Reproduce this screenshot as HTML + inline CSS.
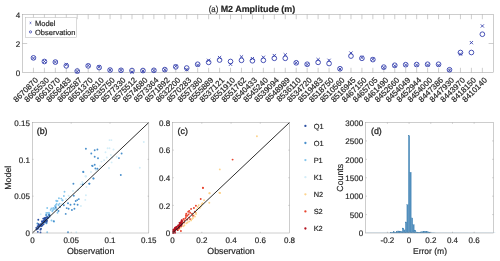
<!DOCTYPE html>
<html><head><meta charset="utf-8"><title>M2 Amplitude</title>
<style>text{stroke:#262626;stroke-width:.18px}html,body{margin:0;padding:0;background:#fff;overflow:hidden}body{width:500px;height:261px;font-family:"Liberation Sans",sans-serif}</style></head>
<body>
<svg width="500" height="261" viewBox="0 0 500 261" style="display:block;font-family:'Liberation Sans', sans-serif;text-rendering:geometricPrecision;will-change:transform" fill="#262626">
<rect width="500" height="261" fill="#fff"/>
<g stroke="#9c9c9c" stroke-width="0.5" fill="none">
<rect x="22.5" y="14.5" width="470.8" height="58.0"/>
<path d="M33.45 72.5v-4.7M33.45 14.5v4.7"/>
<path d="M44.40 72.5v-4.7M44.40 14.5v4.7"/>
<path d="M55.35 72.5v-4.7M55.35 14.5v4.7"/>
<path d="M66.30 72.5v-4.7M66.30 14.5v4.7"/>
<path d="M77.24 72.5v-4.7M77.24 14.5v4.7"/>
<path d="M88.19 72.5v-4.7M88.19 14.5v4.7"/>
<path d="M99.14 72.5v-4.7M99.14 14.5v4.7"/>
<path d="M110.09 72.5v-4.7M110.09 14.5v4.7"/>
<path d="M121.04 72.5v-4.7M121.04 14.5v4.7"/>
<path d="M131.99 72.5v-4.7M131.99 14.5v4.7"/>
<path d="M142.94 72.5v-4.7M142.94 14.5v4.7"/>
<path d="M153.89 72.5v-4.7M153.89 14.5v4.7"/>
<path d="M164.83 72.5v-4.7M164.83 14.5v4.7"/>
<path d="M175.78 72.5v-4.7M175.78 14.5v4.7"/>
<path d="M186.73 72.5v-4.7M186.73 14.5v4.7"/>
<path d="M197.68 72.5v-4.7M197.68 14.5v4.7"/>
<path d="M208.63 72.5v-4.7M208.63 14.5v4.7"/>
<path d="M219.58 72.5v-4.7M219.58 14.5v4.7"/>
<path d="M230.53 72.5v-4.7M230.53 14.5v4.7"/>
<path d="M241.48 72.5v-4.7M241.48 14.5v4.7"/>
<path d="M252.43 72.5v-4.7M252.43 14.5v4.7"/>
<path d="M263.37 72.5v-4.7M263.37 14.5v4.7"/>
<path d="M274.32 72.5v-4.7M274.32 14.5v4.7"/>
<path d="M285.27 72.5v-4.7M285.27 14.5v4.7"/>
<path d="M296.22 72.5v-4.7M296.22 14.5v4.7"/>
<path d="M307.17 72.5v-4.7M307.17 14.5v4.7"/>
<path d="M318.12 72.5v-4.7M318.12 14.5v4.7"/>
<path d="M329.07 72.5v-4.7M329.07 14.5v4.7"/>
<path d="M340.02 72.5v-4.7M340.02 14.5v4.7"/>
<path d="M350.97 72.5v-4.7M350.97 14.5v4.7"/>
<path d="M361.91 72.5v-4.7M361.91 14.5v4.7"/>
<path d="M372.86 72.5v-4.7M372.86 14.5v4.7"/>
<path d="M383.81 72.5v-4.7M383.81 14.5v4.7"/>
<path d="M394.76 72.5v-4.7M394.76 14.5v4.7"/>
<path d="M405.71 72.5v-4.7M405.71 14.5v4.7"/>
<path d="M416.66 72.5v-4.7M416.66 14.5v4.7"/>
<path d="M427.61 72.5v-4.7M427.61 14.5v4.7"/>
<path d="M438.56 72.5v-4.7M438.56 14.5v4.7"/>
<path d="M449.50 72.5v-4.7M449.50 14.5v4.7"/>
<path d="M460.45 72.5v-4.7M460.45 14.5v4.7"/>
<path d="M471.40 72.5v-4.7M471.40 14.5v4.7"/>
<path d="M482.35 72.5v-4.7M482.35 14.5v4.7"/>
<path d="M22.5 43.5h4.7M493.3 43.5h-4.7"/>
</g>
<text x="20.1" y="75.50" font-size="8" text-anchor="end">0</text>
<text x="20.1" y="46.50" font-size="8" text-anchor="end">2</text>
<text x="20.1" y="17.50" font-size="8" text-anchor="end">4</text>
<text transform="translate(38.65 80.7) rotate(-45)" font-size="8" text-anchor="end">8670870</text>
<text transform="translate(49.60 80.7) rotate(-45)" font-size="8" text-anchor="end">8665530</text>
<text transform="translate(60.55 80.7) rotate(-45)" font-size="8" text-anchor="end">8661070</text>
<text transform="translate(71.50 80.7) rotate(-45)" font-size="8" text-anchor="end">8656483</text>
<text transform="translate(82.44 80.7) rotate(-45)" font-size="8" text-anchor="end">8652587</text>
<text transform="translate(93.39 80.7) rotate(-45)" font-size="8" text-anchor="end">8651370</text>
<text transform="translate(104.34 80.7) rotate(-45)" font-size="8" text-anchor="end">8638610</text>
<text transform="translate(115.29 80.7) rotate(-45)" font-size="8" text-anchor="end">8635750</text>
<text transform="translate(126.24 80.7) rotate(-45)" font-size="8" text-anchor="end">8577330</text>
<text transform="translate(137.19 80.7) rotate(-45)" font-size="8" text-anchor="end">8575512</text>
<text transform="translate(148.14 80.7) rotate(-45)" font-size="8" text-anchor="end">8574680</text>
<text transform="translate(159.09 80.7) rotate(-45)" font-size="8" text-anchor="end">8573364</text>
<text transform="translate(170.03 80.7) rotate(-45)" font-size="8" text-anchor="end">8571892</text>
<text transform="translate(180.98 80.7) rotate(-45)" font-size="8" text-anchor="end">8632200</text>
<text transform="translate(191.93 80.7) rotate(-45)" font-size="8" text-anchor="end">8570283</text>
<text transform="translate(202.88 80.7) rotate(-45)" font-size="8" text-anchor="end">8557380</text>
<text transform="translate(213.83 80.7) rotate(-45)" font-size="8" text-anchor="end">8555889</text>
<text transform="translate(224.78 80.7) rotate(-45)" font-size="8" text-anchor="end">8537121</text>
<text transform="translate(235.73 80.7) rotate(-45)" font-size="8" text-anchor="end">8551910</text>
<text transform="translate(246.68 80.7) rotate(-45)" font-size="8" text-anchor="end">8551762</text>
<text transform="translate(257.63 80.7) rotate(-45)" font-size="8" text-anchor="end">8540433</text>
<text transform="translate(268.57 80.7) rotate(-45)" font-size="8" text-anchor="end">8545240</text>
<text transform="translate(279.52 80.7) rotate(-45)" font-size="8" text-anchor="end">8539094</text>
<text transform="translate(290.47 80.7) rotate(-45)" font-size="8" text-anchor="end">8548989</text>
<text transform="translate(301.42 80.7) rotate(-45)" font-size="8" text-anchor="end">8536110</text>
<text transform="translate(312.37 80.7) rotate(-45)" font-size="8" text-anchor="end">8534720</text>
<text transform="translate(323.32 80.7) rotate(-45)" font-size="8" text-anchor="end">8519483</text>
<text transform="translate(334.27 80.7) rotate(-45)" font-size="8" text-anchor="end">8518750</text>
<text transform="translate(345.22 80.7) rotate(-45)" font-size="8" text-anchor="end">8510560</text>
<text transform="translate(356.17 80.7) rotate(-45)" font-size="8" text-anchor="end">8516945</text>
<text transform="translate(367.11 80.7) rotate(-45)" font-size="8" text-anchor="end">8467150</text>
<text transform="translate(378.06 80.7) rotate(-45)" font-size="8" text-anchor="end">8465705</text>
<text transform="translate(389.01 80.7) rotate(-45)" font-size="8" text-anchor="end">8461490</text>
<text transform="translate(399.96 80.7) rotate(-45)" font-size="8" text-anchor="end">8452660</text>
<text transform="translate(410.91 80.7) rotate(-45)" font-size="8" text-anchor="end">8454049</text>
<text transform="translate(421.86 80.7) rotate(-45)" font-size="8" text-anchor="end">8452944</text>
<text transform="translate(432.81 80.7) rotate(-45)" font-size="8" text-anchor="end">8454000</text>
<text transform="translate(443.76 80.7) rotate(-45)" font-size="8" text-anchor="end">8447386</text>
<text transform="translate(454.70 80.7) rotate(-45)" font-size="8" text-anchor="end">8447930</text>
<text transform="translate(465.65 80.7) rotate(-45)" font-size="8" text-anchor="end">8443970</text>
<text transform="translate(476.60 80.7) rotate(-45)" font-size="8" text-anchor="end">8418150</text>
<text transform="translate(487.55 80.7) rotate(-45)" font-size="8" text-anchor="end">8410140</text>
<text x="208.7" y="11.6" font-size="8.8" textLength="9.6" lengthAdjust="spacingAndGlyphs">(a)</text><text x="220.7" y="11.6" font-size="8.93" font-weight="bold">M2 Amplitude (m)</text>
<g stroke="#3641ae" stroke-width="0.9" fill="none">
<circle cx="33.45" cy="57.86" r="2.35"/>
<path d="M31.85 56.55l3.2 3.2M31.85 59.76l3.2 -3.2"/>
<circle cx="44.40" cy="61.49" r="2.35"/>
<path d="M42.80 59.89l3.2 3.2M42.80 63.09l3.2 -3.2"/>
<circle cx="55.35" cy="62.07" r="2.35"/>
<path d="M53.75 60.47l3.2 3.2M53.75 63.67l3.2 -3.2"/>
<circle cx="66.30" cy="65.84" r="2.35"/>
<path d="M64.70 63.08l3.2 3.2M64.70 66.28l3.2 -3.2"/>
<circle cx="77.24" cy="71.06" r="2.35"/>
<path d="M75.64 70.04l3.2 3.2M75.64 73.24l3.2 -3.2"/>
<circle cx="88.19" cy="65.84" r="2.35"/>
<path d="M86.59 63.95l3.2 3.2M86.59 67.15l3.2 -3.2"/>
<circle cx="99.14" cy="67.58" r="2.35"/>
<path d="M97.54 65.26l3.2 3.2M97.54 68.45l3.2 -3.2"/>
<circle cx="110.09" cy="70.05" r="2.35"/>
<path d="M108.49 68.45l3.2 3.2M108.49 71.64l3.2 -3.2"/>
<circle cx="121.04" cy="70.33" r="2.35"/>
<path d="M119.44 68.73l3.2 3.2M119.44 71.93l3.2 -3.2"/>
<circle cx="131.99" cy="70.55" r="2.35"/>
<path d="M130.39 70.48l3.2 3.2M130.39 73.67l3.2 -3.2"/>
<circle cx="142.94" cy="70.55" r="2.35"/>
<path d="M141.34 69.46l3.2 3.2M141.34 72.66l3.2 -3.2"/>
<circle cx="153.89" cy="70.33" r="2.35"/>
<path d="M152.29 68.95l3.2 3.2M152.29 72.15l3.2 -3.2"/>
<circle cx="164.83" cy="69.61" r="2.35"/>
<path d="M163.23 68.16l3.2 3.2M163.23 71.35l3.2 -3.2"/>
<circle cx="175.78" cy="66.86" r="2.35"/>
<path d="M174.18 64.67l3.2 3.2M174.18 67.87l3.2 -3.2"/>
<circle cx="186.73" cy="68.02" r="2.35"/>
<path d="M185.13 68.01l3.2 3.2M185.13 71.21l3.2 -3.2"/>
<circle cx="197.68" cy="64.25" r="2.35"/>
<path d="M196.08 63.51l3.2 3.2M196.08 66.71l3.2 -3.2"/>
<circle cx="208.63" cy="62.36" r="2.35"/>
<path d="M207.03 58.73l3.2 3.2M207.03 61.93l3.2 -3.2"/>
<circle cx="219.58" cy="60.04" r="2.35"/>
<path d="M217.98 55.97l3.2 3.2M217.98 59.17l3.2 -3.2"/>
<circle cx="230.53" cy="61.49" r="2.35"/>
<path d="M228.93 62.65l3.2 3.2M228.93 65.84l3.2 -3.2"/>
<circle cx="241.48" cy="60.33" r="2.35"/>
<path d="M239.88 55.25l3.2 3.2M239.88 58.45l3.2 -3.2"/>
<circle cx="252.43" cy="60.77" r="2.35"/>
<path d="M250.83 56.99l3.2 3.2M250.83 60.19l3.2 -3.2"/>
<circle cx="263.37" cy="60.33" r="2.35"/>
<path d="M261.77 55.68l3.2 3.2M261.77 58.88l3.2 -3.2"/>
<circle cx="274.32" cy="58.30" r="2.35"/>
<path d="M272.72 53.95l3.2 3.2M272.72 57.15l3.2 -3.2"/>
<circle cx="285.27" cy="58.30" r="2.35"/>
<path d="M283.67 53.22l3.2 3.2M283.67 56.42l3.2 -3.2"/>
<circle cx="296.22" cy="62.80" r="2.35"/>
<path d="M294.62 61.20l3.2 3.2M294.62 64.39l3.2 -3.2"/>
<circle cx="307.17" cy="64.25" r="2.35"/>
<path d="M305.57 62.93l3.2 3.2M305.57 66.13l3.2 -3.2"/>
<circle cx="318.12" cy="62.36" r="2.35"/>
<path d="M316.52 58.00l3.2 3.2M316.52 61.20l3.2 -3.2"/>
<circle cx="329.07" cy="63.52" r="2.35"/>
<path d="M327.47 58.73l3.2 3.2M327.47 61.93l3.2 -3.2"/>
<circle cx="340.02" cy="68.74" r="2.35"/>
<path d="M338.42 67.43l3.2 3.2M338.42 70.63l3.2 -3.2"/>
<circle cx="350.97" cy="56.05" r="2.35"/>
<path d="M349.37 51.48l3.2 3.2M349.37 54.68l3.2 -3.2"/>
<circle cx="361.91" cy="58.30" r="2.35"/>
<path d="M360.31 55.97l3.2 3.2M360.31 59.17l3.2 -3.2"/>
<circle cx="372.86" cy="59.60" r="2.35"/>
<path d="M371.26 57.71l3.2 3.2M371.26 60.91l3.2 -3.2"/>
<circle cx="383.81" cy="67.14" r="2.35"/>
<path d="M382.21 65.98l3.2 3.2M382.21 69.18l3.2 -3.2"/>
<circle cx="394.76" cy="65.26" r="2.35"/>
<path d="M393.16 64.24l3.2 3.2M393.16 67.44l3.2 -3.2"/>
<circle cx="405.71" cy="64.68" r="2.35"/>
<path d="M404.11 63.37l3.2 3.2M404.11 66.57l3.2 -3.2"/>
<circle cx="416.66" cy="64.53" r="2.35"/>
<path d="M415.06 63.37l3.2 3.2M415.06 66.57l3.2 -3.2"/>
<circle cx="427.61" cy="64.25" r="2.35"/>
<path d="M426.01 63.37l3.2 3.2M426.01 66.57l3.2 -3.2"/>
<circle cx="438.56" cy="64.25" r="2.35"/>
<path d="M436.96 63.66l3.2 3.2M436.96 66.86l3.2 -3.2"/>
<circle cx="449.50" cy="69.75" r="2.35"/>
<path d="M447.90 68.59l3.2 3.2M447.90 71.79l3.2 -3.2"/>
<circle cx="460.45" cy="52.50" r="2.35"/>
<path d="M458.85 52.49l3.2 3.2M458.85 55.70l3.2 -3.2"/>
<circle cx="471.40" cy="52.50" r="2.35"/>
<path d="M469.80 41.04l3.2 3.2M469.80 44.24l3.2 -3.2"/>
<circle cx="482.35" cy="34.23" r="2.35"/>
<path d="M480.75 24.36l3.2 3.2M480.75 27.57l3.2 -3.2"/>
</g>
<rect x="25.4" y="17.5" width="51.2" height="19.8" fill="#fff" stroke="#b5b5b5" stroke-width="0.5"/>
<g stroke="#3641ae" stroke-width="0.8" fill="none"><path d="M29.7 22.1l1.6 1.6M29.7 23.7l1.6 -1.6"/><circle cx="30.5" cy="31.9" r="1.1"/></g>
<text x="35" y="25.5" font-size="7.5">Model</text>
<text x="35" y="34.5" font-size="7.5">Observation</text>
<circle cx="85.9" cy="176.5" r="0.95" fill="#d3edf8"/>
<circle cx="80.7" cy="184.2" r="0.95" fill="#d3edf8"/>
<circle cx="83.9" cy="183.2" r="0.95" fill="#d3edf8"/>
<circle cx="73.0" cy="190.9" r="0.95" fill="#d3edf8"/>
<circle cx="85.9" cy="195.3" r="0.95" fill="#d3edf8"/>
<circle cx="85.3" cy="199.9" r="0.95" fill="#d3edf8"/>
<circle cx="68.6" cy="195.7" r="0.95" fill="#d3edf8"/>
<circle cx="108.9" cy="167.9" r="0.95" fill="#d3edf8"/>
<circle cx="109.5" cy="140.1" r="0.95" fill="#d3edf8"/>
<circle cx="111.4" cy="140.1" r="0.95" fill="#d3edf8"/>
<circle cx="107.6" cy="148.2" r="0.95" fill="#d3edf8"/>
<circle cx="109.5" cy="148.2" r="0.95" fill="#d3edf8"/>
<circle cx="113.5" cy="149.5" r="0.95" fill="#d3edf8"/>
<circle cx="105.5" cy="152.2" r="0.95" fill="#d3edf8"/>
<circle cx="106.8" cy="157.5" r="0.95" fill="#d3edf8"/>
<circle cx="110.8" cy="154.9" r="0.95" fill="#d3edf8"/>
<circle cx="112.2" cy="157.5" r="0.95" fill="#d3edf8"/>
<circle cx="101.5" cy="161.6" r="0.95" fill="#d3edf8"/>
<circle cx="104.1" cy="160.2" r="0.95" fill="#d3edf8"/>
<circle cx="111.6" cy="162.4" r="0.95" fill="#d3edf8"/>
<circle cx="109.0" cy="168.3" r="0.95" fill="#d3edf8"/>
<circle cx="143.8" cy="142.0" r="0.95" fill="#d3edf8"/>
<circle cx="139.8" cy="167.7" r="0.95" fill="#d3edf8"/>
<circle cx="116.7" cy="156.7" r="0.95" fill="#d3edf8"/>
<circle cx="85.4" cy="176.3" r="0.95" fill="#d3edf8"/>
<circle cx="85.8" cy="176.2" r="0.95" fill="#d3edf8"/>
<circle cx="82.2" cy="182.0" r="0.95" fill="#d3edf8"/>
<circle cx="86.5" cy="187.0" r="0.95" fill="#d3edf8"/>
<circle cx="80.9" cy="206.0" r="0.95" fill="#d3edf8"/>
<circle cx="76.3" cy="232.2" r="0.95" fill="#d3edf8"/>
<circle cx="40.7" cy="214.2" r="0.95" fill="#d3edf8"/>
<circle cx="57.0" cy="210.0" r="0.95" fill="#d3edf8"/>
<circle cx="62.0" cy="204.0" r="0.95" fill="#d3edf8"/>
<circle cx="66.0" cy="199.0" r="0.95" fill="#d3edf8"/>
<circle cx="70.0" cy="197.0" r="0.95" fill="#d3edf8"/>
<circle cx="78.0" cy="190.0" r="0.95" fill="#d3edf8"/>
<circle cx="91.0" cy="172.0" r="0.95" fill="#d3edf8"/>
<circle cx="96.0" cy="170.0" r="0.95" fill="#d3edf8"/>
<circle cx="100.0" cy="166.0" r="0.95" fill="#d3edf8"/>
<circle cx="51.35" cy="208.46" r="0.95" fill="#86c6ec"/>
<circle cx="46.28" cy="213.00" r="0.95" fill="#86c6ec"/>
<circle cx="55.63" cy="206.69" r="0.95" fill="#86c6ec"/>
<circle cx="55.05" cy="206.04" r="0.95" fill="#86c6ec"/>
<circle cx="45.57" cy="217.68" r="0.95" fill="#86c6ec"/>
<circle cx="46.65" cy="215.25" r="0.95" fill="#86c6ec"/>
<circle cx="53.38" cy="207.87" r="0.95" fill="#86c6ec"/>
<circle cx="49.32" cy="213.97" r="0.95" fill="#86c6ec"/>
<circle cx="57.48" cy="200.93" r="0.95" fill="#86c6ec"/>
<circle cx="52.82" cy="210.17" r="0.95" fill="#86c6ec"/>
<circle cx="64.51" cy="191.76" r="0.95" fill="#86c6ec"/>
<circle cx="50.66" cy="209.91" r="0.95" fill="#86c6ec"/>
<circle cx="47.73" cy="212.86" r="0.95" fill="#86c6ec"/>
<circle cx="61.28" cy="198.59" r="0.95" fill="#86c6ec"/>
<circle cx="48.46" cy="216.92" r="0.95" fill="#86c6ec"/>
<circle cx="52.33" cy="211.41" r="0.95" fill="#86c6ec"/>
<circle cx="55.87" cy="205.00" r="0.95" fill="#86c6ec"/>
<circle cx="48.97" cy="212.82" r="0.95" fill="#86c6ec"/>
<circle cx="58.54" cy="205.00" r="0.95" fill="#86c6ec"/>
<circle cx="56.63" cy="204.04" r="0.95" fill="#86c6ec"/>
<circle cx="53.96" cy="209.28" r="0.95" fill="#86c6ec"/>
<circle cx="58.92" cy="198.23" r="0.95" fill="#86c6ec"/>
<circle cx="49.74" cy="215.16" r="0.95" fill="#86c6ec"/>
<circle cx="62.47" cy="200.23" r="0.95" fill="#86c6ec"/>
<circle cx="59.53" cy="203.65" r="0.95" fill="#86c6ec"/>
<circle cx="47.20" cy="208.04" r="0.95" fill="#86c6ec"/>
<circle cx="53.25" cy="208.55" r="0.95" fill="#86c6ec"/>
<circle cx="54.68" cy="208.58" r="0.95" fill="#86c6ec"/>
<circle cx="45.61" cy="218.90" r="0.95" fill="#86c6ec"/>
<circle cx="56.38" cy="209.12" r="0.95" fill="#86c6ec"/>
<circle cx="62.48" cy="200.36" r="0.95" fill="#86c6ec"/>
<circle cx="56.81" cy="201.18" r="0.95" fill="#86c6ec"/>
<circle cx="56.52" cy="209.90" r="0.95" fill="#86c6ec"/>
<circle cx="63.88" cy="195.98" r="0.95" fill="#86c6ec"/>
<circle cx="47.2" cy="232.2" r="0.95" fill="#86c6ec"/>
<circle cx="51.5" cy="220.5" r="0.95" fill="#86c6ec"/>
<circle cx="54.1" cy="221.5" r="0.95" fill="#86c6ec"/>
<circle cx="57.5" cy="212.7" r="0.95" fill="#86c6ec"/>
<circle cx="56.2" cy="200.7" r="0.95" fill="#86c6ec"/>
<circle cx="83.4" cy="172.1" r="0.95" fill="#4a90cc"/>
<circle cx="73.4" cy="183.8" r="0.95" fill="#4a90cc"/>
<circle cx="93.5" cy="178.4" r="0.95" fill="#4a90cc"/>
<circle cx="89.3" cy="183.8" r="0.95" fill="#4a90cc"/>
<circle cx="95.4" cy="168.4" r="0.95" fill="#4a90cc"/>
<circle cx="92.6" cy="166.0" r="0.95" fill="#4a90cc"/>
<circle cx="73.8" cy="195.7" r="0.95" fill="#4a90cc"/>
<circle cx="78.8" cy="199.1" r="0.95" fill="#4a90cc"/>
<circle cx="77.2" cy="200.1" r="0.95" fill="#4a90cc"/>
<circle cx="75.7" cy="201.0" r="0.95" fill="#4a90cc"/>
<circle cx="68.0" cy="203.3" r="0.95" fill="#4a90cc"/>
<circle cx="70.5" cy="204.8" r="0.95" fill="#4a90cc"/>
<circle cx="74.4" cy="204.3" r="0.95" fill="#4a90cc"/>
<circle cx="77.6" cy="204.7" r="0.95" fill="#4a90cc"/>
<circle cx="63.8" cy="205.2" r="0.95" fill="#4a90cc"/>
<circle cx="66.7" cy="208.1" r="0.95" fill="#4a90cc"/>
<circle cx="68.6" cy="208.7" r="0.95" fill="#4a90cc"/>
<circle cx="71.9" cy="210.0" r="0.95" fill="#4a90cc"/>
<circle cx="74.4" cy="208.7" r="0.95" fill="#4a90cc"/>
<circle cx="65.7" cy="213.9" r="0.95" fill="#4a90cc"/>
<circle cx="85.9" cy="148.7" r="0.95" fill="#4a90cc"/>
<circle cx="91.3" cy="153.5" r="0.95" fill="#4a90cc"/>
<circle cx="94.7" cy="150.3" r="0.95" fill="#4a90cc"/>
<circle cx="97.4" cy="149.5" r="0.95" fill="#4a90cc"/>
<circle cx="94.7" cy="156.7" r="0.95" fill="#4a90cc"/>
<circle cx="98.0" cy="158.3" r="0.95" fill="#4a90cc"/>
<circle cx="92.1" cy="165.6" r="0.95" fill="#4a90cc"/>
<circle cx="94.7" cy="164.8" r="0.95" fill="#4a90cc"/>
<circle cx="97.4" cy="168.8" r="0.95" fill="#4a90cc"/>
<circle cx="83.2" cy="171.8" r="0.95" fill="#4a90cc"/>
<circle cx="121.6" cy="153.5" r="0.95" fill="#4a90cc"/>
<circle cx="118.9" cy="158.1" r="0.95" fill="#4a90cc"/>
<circle cx="120.8" cy="175.0" r="0.95" fill="#4a90cc"/>
<circle cx="93.4" cy="178.5" r="0.95" fill="#4a90cc"/>
<circle cx="89.4" cy="183.6" r="0.95" fill="#4a90cc"/>
<circle cx="82.7" cy="184.4" r="0.95" fill="#4a90cc"/>
<circle cx="53.7" cy="221.3" r="0.95" fill="#4a90cc"/>
<circle cx="68.0" cy="232.3" r="0.95" fill="#4a90cc"/>
<circle cx="46.1" cy="215.0" r="0.95" fill="#4a90cc"/>
<circle cx="49.5" cy="216.8" r="0.95" fill="#4a90cc"/>
<circle cx="48.8" cy="214.8" r="0.95" fill="#4a90cc"/>
<circle cx="44.9" cy="222.5" r="0.95" fill="#4a90cc"/>
<circle cx="46.5" cy="223.2" r="0.95" fill="#4a90cc"/>
<circle cx="37.4" cy="223.5" r="0.95" fill="#4a90cc"/>
<circle cx="55.7" cy="207.5" r="0.95" fill="#4a90cc"/>
<circle cx="60.0" cy="207.0" r="0.95" fill="#4a90cc"/>
<circle cx="58.5" cy="211.0" r="0.95" fill="#4a90cc"/>
<circle cx="38.80" cy="224.76" r="0.95" fill="#2b4fa2"/>
<circle cx="43.54" cy="224.26" r="0.95" fill="#2b4fa2"/>
<circle cx="46.91" cy="220.23" r="0.95" fill="#2b4fa2"/>
<circle cx="44.49" cy="220.27" r="0.95" fill="#2b4fa2"/>
<circle cx="37.57" cy="226.17" r="0.95" fill="#2b4fa2"/>
<circle cx="36.28" cy="227.85" r="0.95" fill="#2b4fa2"/>
<circle cx="43.87" cy="221.33" r="0.95" fill="#2b4fa2"/>
<circle cx="40.82" cy="224.62" r="0.95" fill="#2b4fa2"/>
<circle cx="39.75" cy="225.64" r="0.95" fill="#2b4fa2"/>
<circle cx="45.61" cy="219.28" r="0.95" fill="#2b4fa2"/>
<circle cx="45.95" cy="220.16" r="0.95" fill="#2b4fa2"/>
<circle cx="43.32" cy="221.98" r="0.95" fill="#2b4fa2"/>
<circle cx="43.56" cy="221.26" r="0.95" fill="#2b4fa2"/>
<circle cx="44.09" cy="221.68" r="0.95" fill="#2b4fa2"/>
<circle cx="47.33" cy="217.31" r="0.95" fill="#2b4fa2"/>
<circle cx="44.61" cy="220.26" r="0.95" fill="#2b4fa2"/>
<circle cx="44.32" cy="218.19" r="0.95" fill="#2b4fa2"/>
<circle cx="44.41" cy="220.85" r="0.95" fill="#2b4fa2"/>
<circle cx="38.49" cy="227.79" r="0.95" fill="#2b4fa2"/>
<circle cx="46.46" cy="219.99" r="0.95" fill="#2b4fa2"/>
<circle cx="45.54" cy="220.29" r="0.95" fill="#2b4fa2"/>
<circle cx="44.36" cy="219.93" r="0.95" fill="#2b4fa2"/>
<circle cx="37.36" cy="228.74" r="0.95" fill="#2b4fa2"/>
<circle cx="41.11" cy="223.94" r="0.95" fill="#2b4fa2"/>
<circle cx="45.23" cy="217.60" r="0.95" fill="#2b4fa2"/>
<circle cx="37.82" cy="231.91" r="0.95" fill="#2b4fa2"/>
<circle cx="42.36" cy="225.18" r="0.95" fill="#2b4fa2"/>
<circle cx="45.72" cy="219.70" r="0.95" fill="#2b4fa2"/>
<circle cx="39.21" cy="225.76" r="0.95" fill="#2b4fa2"/>
<circle cx="47.37" cy="218.11" r="0.95" fill="#2b4fa2"/>
<circle cx="44.42" cy="222.06" r="0.95" fill="#2b4fa2"/>
<circle cx="42.46" cy="222.20" r="0.95" fill="#2b4fa2"/>
<circle cx="43.78" cy="221.52" r="0.95" fill="#2b4fa2"/>
<circle cx="44.69" cy="221.94" r="0.95" fill="#2b4fa2"/>
<circle cx="43.21" cy="218.59" r="0.95" fill="#2b4fa2"/>
<circle cx="46.08" cy="219.18" r="0.95" fill="#2b4fa2"/>
<circle cx="41.03" cy="225.54" r="0.95" fill="#2b4fa2"/>
<circle cx="41.72" cy="224.14" r="0.95" fill="#2b4fa2"/>
<circle cx="45.79" cy="220.40" r="0.95" fill="#2b4fa2"/>
<circle cx="42.95" cy="222.89" r="0.95" fill="#2b4fa2"/>
<circle cx="40.42" cy="229.66" r="0.95" fill="#2b4fa2"/>
<circle cx="45.52" cy="221.09" r="0.95" fill="#2b4fa2"/>
<circle cx="46.97" cy="217.26" r="0.95" fill="#2b4fa2"/>
<circle cx="41.63" cy="225.95" r="0.95" fill="#2b4fa2"/>
<circle cx="39.02" cy="226.70" r="0.95" fill="#2b4fa2"/>
<circle cx="42.50" cy="221.68" r="0.95" fill="#2b4fa2"/>
<circle cx="42.46" cy="221.87" r="0.95" fill="#2b4fa2"/>
<circle cx="42.04" cy="221.25" r="0.95" fill="#2b4fa2"/>
<circle cx="46.80" cy="221.81" r="0.95" fill="#2b4fa2"/>
<circle cx="40.01" cy="226.21" r="0.95" fill="#2b4fa2"/>
<circle cx="40.5" cy="232.4" r="0.95" fill="#2b4fa2"/>
<circle cx="38.3" cy="219.8" r="0.95" fill="#2b4fa2"/>
<circle cx="38.7" cy="224.2" r="0.95" fill="#2b4fa2"/>
<circle cx="41.0" cy="228.8" r="0.95" fill="#2b4fa2"/>
<circle cx="38.0" cy="228.5" r="0.95" fill="#2b4fa2"/>
<circle cx="36.5" cy="229.5" r="0.95" fill="#2b4fa2"/>
<circle cx="48.0" cy="218.0" r="0.95" fill="#2b4fa2"/>
<circle cx="49.5" cy="215.5" r="0.95" fill="#2b4fa2"/>
<path d="M32.4 233.0L148.8 122.5" stroke="#222" stroke-width="0.95"/>
<rect x="32.4" y="122.5" width="116.4" height="110.5" fill="none" stroke="#9c9c9c" stroke-width="0.5"/>
<circle cx="209.7" cy="193.2" r="0.95" fill="#fdd38c"/>
<circle cx="219.4" cy="192.7" r="0.95" fill="#fdd38c"/>
<circle cx="209.3" cy="202.8" r="0.95" fill="#fdd38c"/>
<circle cx="204.1" cy="200.3" r="0.95" fill="#fdd38c"/>
<circle cx="201.6" cy="204.2" r="0.95" fill="#fdd38c"/>
<circle cx="198.7" cy="205.1" r="0.95" fill="#fdd38c"/>
<circle cx="199.7" cy="208.0" r="0.95" fill="#fdd38c"/>
<circle cx="197.8" cy="207.0" r="0.95" fill="#fdd38c"/>
<circle cx="196.8" cy="209.5" r="0.95" fill="#fdd38c"/>
<circle cx="195.9" cy="212.8" r="0.95" fill="#fdd38c"/>
<circle cx="193.9" cy="215.3" r="0.95" fill="#fdd38c"/>
<circle cx="194.9" cy="216.6" r="0.95" fill="#fdd38c"/>
<circle cx="193.0" cy="218.0" r="0.95" fill="#fdd38c"/>
<circle cx="191.1" cy="220.4" r="0.95" fill="#fdd38c"/>
<circle cx="189.2" cy="221.4" r="0.95" fill="#fdd38c"/>
<circle cx="186.3" cy="223.3" r="0.95" fill="#fdd38c"/>
<circle cx="184.4" cy="225.2" r="0.95" fill="#fdd38c"/>
<circle cx="183.4" cy="226.2" r="0.95" fill="#fdd38c"/>
<circle cx="200.7" cy="206.5" r="0.95" fill="#fdd38c"/>
<circle cx="202.6" cy="203.2" r="0.95" fill="#fdd38c"/>
<circle cx="256.9" cy="136.3" r="0.95" fill="#fdd38c"/>
<circle cx="219.8" cy="169.4" r="0.95" fill="#fdd38c"/>
<circle cx="209.3" cy="193.3" r="0.95" fill="#fdd38c"/>
<circle cx="220.1" cy="193.0" r="0.95" fill="#fdd38c"/>
<circle cx="181.0" cy="227.5" r="0.95" fill="#fdd38c"/>
<circle cx="179.5" cy="229.0" r="0.95" fill="#fdd38c"/>
<circle cx="187.5" cy="222.5" r="0.95" fill="#fdd38c"/>
<circle cx="192.0" cy="219.0" r="0.95" fill="#fdd38c"/>
<circle cx="196.0" cy="214.0" r="0.95" fill="#fdd38c"/>
<circle cx="178.0" cy="230.0" r="0.95" fill="#fdd38c"/>
<circle cx="203.0" cy="187.9" r="0.95" fill="#e8452e"/>
<circle cx="200.7" cy="199.0" r="0.95" fill="#e8452e"/>
<circle cx="195.9" cy="205.7" r="0.95" fill="#e8452e"/>
<circle cx="193.9" cy="208.0" r="0.95" fill="#e8452e"/>
<circle cx="191.1" cy="208.9" r="0.95" fill="#e8452e"/>
<circle cx="189.2" cy="210.9" r="0.95" fill="#e8452e"/>
<circle cx="190.1" cy="212.8" r="0.95" fill="#e8452e"/>
<circle cx="188.2" cy="211.8" r="0.95" fill="#e8452e"/>
<circle cx="186.3" cy="213.7" r="0.95" fill="#e8452e"/>
<circle cx="185.9" cy="215.3" r="0.95" fill="#e8452e"/>
<circle cx="187.2" cy="215.7" r="0.95" fill="#e8452e"/>
<circle cx="192.0" cy="213.7" r="0.95" fill="#e8452e"/>
<circle cx="193.0" cy="215.7" r="0.95" fill="#e8452e"/>
<circle cx="189.2" cy="217.6" r="0.95" fill="#e8452e"/>
<circle cx="190.1" cy="219.1" r="0.95" fill="#e8452e"/>
<circle cx="187.2" cy="219.5" r="0.95" fill="#e8452e"/>
<circle cx="184.4" cy="220.4" r="0.95" fill="#e8452e"/>
<circle cx="181.5" cy="220.4" r="0.95" fill="#e8452e"/>
<circle cx="180.9" cy="231.0" r="0.95" fill="#e8452e"/>
<circle cx="182.5" cy="222.4" r="0.95" fill="#e8452e"/>
<circle cx="185.3" cy="218.5" r="0.95" fill="#e8452e"/>
<circle cx="194.9" cy="211.8" r="0.95" fill="#e8452e"/>
<circle cx="232.6" cy="159.6" r="0.95" fill="#e8452e"/>
<circle cx="202.9" cy="187.8" r="0.95" fill="#e8452e"/>
<circle cx="183.5" cy="219.0" r="0.95" fill="#e8452e"/>
<circle cx="186.0" cy="217.0" r="0.95" fill="#e8452e"/>
<circle cx="188.5" cy="214.5" r="0.95" fill="#e8452e"/>
<circle cx="184.0" cy="222.5" r="0.95" fill="#e8452e"/>
<circle cx="182.0" cy="224.0" r="0.95" fill="#e8452e"/>
<circle cx="180.5" cy="225.5" r="0.95" fill="#e8452e"/>
<circle cx="179.0" cy="227.0" r="0.95" fill="#e8452e"/>
<circle cx="174.57" cy="229.74" r="0.95" fill="#b3111f"/>
<circle cx="181.88" cy="220.28" r="0.95" fill="#b3111f"/>
<circle cx="180.06" cy="223.62" r="0.95" fill="#b3111f"/>
<circle cx="178.63" cy="228.05" r="0.95" fill="#b3111f"/>
<circle cx="173.88" cy="232.00" r="0.95" fill="#b3111f"/>
<circle cx="173.07" cy="231.81" r="0.95" fill="#b3111f"/>
<circle cx="173.07" cy="231.86" r="0.95" fill="#b3111f"/>
<circle cx="178.07" cy="225.54" r="0.95" fill="#b3111f"/>
<circle cx="181.48" cy="225.71" r="0.95" fill="#b3111f"/>
<circle cx="181.93" cy="221.52" r="0.95" fill="#b3111f"/>
<circle cx="181.45" cy="223.54" r="0.95" fill="#b3111f"/>
<circle cx="173.88" cy="230.18" r="0.95" fill="#b3111f"/>
<circle cx="173.71" cy="230.53" r="0.95" fill="#b3111f"/>
<circle cx="180.70" cy="222.08" r="0.95" fill="#b3111f"/>
<circle cx="179.90" cy="226.38" r="0.95" fill="#b3111f"/>
<circle cx="179.37" cy="224.90" r="0.95" fill="#b3111f"/>
<circle cx="173.21" cy="232.99" r="0.95" fill="#b3111f"/>
<circle cx="179.16" cy="227.66" r="0.95" fill="#b3111f"/>
<circle cx="178.76" cy="226.54" r="0.95" fill="#b3111f"/>
<circle cx="179.24" cy="225.16" r="0.95" fill="#b3111f"/>
<circle cx="174.59" cy="229.06" r="0.95" fill="#b3111f"/>
<circle cx="175.09" cy="232.73" r="0.95" fill="#b3111f"/>
<circle cx="175.14" cy="227.64" r="0.95" fill="#b3111f"/>
<circle cx="173.57" cy="231.82" r="0.95" fill="#b3111f"/>
<circle cx="173.37" cy="229.80" r="0.95" fill="#b3111f"/>
<circle cx="179.46" cy="222.84" r="0.95" fill="#b3111f"/>
<circle cx="173.46" cy="229.67" r="0.95" fill="#b3111f"/>
<circle cx="177.67" cy="229.99" r="0.95" fill="#b3111f"/>
<circle cx="174.73" cy="230.58" r="0.95" fill="#b3111f"/>
<circle cx="173.05" cy="231.90" r="0.95" fill="#b3111f"/>
<circle cx="181.68" cy="223.63" r="0.95" fill="#b3111f"/>
<circle cx="181.16" cy="224.50" r="0.95" fill="#b3111f"/>
<circle cx="175.42" cy="227.63" r="0.95" fill="#b3111f"/>
<circle cx="173.79" cy="232.61" r="0.95" fill="#b3111f"/>
<circle cx="174.04" cy="230.92" r="0.95" fill="#b3111f"/>
<circle cx="176.90" cy="226.82" r="0.95" fill="#b3111f"/>
<circle cx="174.08" cy="231.20" r="0.95" fill="#b3111f"/>
<circle cx="180.83" cy="223.29" r="0.95" fill="#b3111f"/>
<circle cx="174.76" cy="231.52" r="0.95" fill="#b3111f"/>
<circle cx="180.75" cy="223.27" r="0.95" fill="#b3111f"/>
<circle cx="175.30" cy="228.08" r="0.95" fill="#b3111f"/>
<circle cx="176.34" cy="229.01" r="0.95" fill="#b3111f"/>
<circle cx="176.25" cy="227.04" r="0.95" fill="#b3111f"/>
<circle cx="173.64" cy="230.94" r="0.95" fill="#b3111f"/>
<circle cx="173.04" cy="231.48" r="0.95" fill="#b3111f"/>
<circle cx="175.78" cy="229.60" r="0.95" fill="#b3111f"/>
<circle cx="178.46" cy="227.12" r="0.95" fill="#b3111f"/>
<circle cx="176.20" cy="228.81" r="0.95" fill="#b3111f"/>
<circle cx="176.57" cy="227.91" r="0.95" fill="#b3111f"/>
<circle cx="176.62" cy="228.56" r="0.95" fill="#b3111f"/>
<path d="M172.6 233.0L289.5 122.5" stroke="#222" stroke-width="0.95"/>
<rect x="172.6" y="122.5" width="116.9" height="110.5" fill="none" stroke="#9c9c9c" stroke-width="0.5"/>
<g stroke="#9c9c9c" stroke-width="0.5">
<path d="M71.20 233.0v-1.2M71.20 122.5v1.2M32.4 196.17h1.2M148.8 196.17h-1.2"/>
<path d="M110.00 233.0v-1.2M110.00 122.5v1.2M32.4 159.33h1.2M148.8 159.33h-1.2"/>
<path d="M201.82 233.0v-1.2M201.82 122.5v1.2M172.6 205.38h1.2M289.5 205.38h-1.2"/>
<path d="M231.05 233.0v-1.2M231.05 122.5v1.2M172.6 177.75h1.2M289.5 177.75h-1.2"/>
<path d="M260.27 233.0v-1.2M260.27 122.5v1.2M172.6 150.12h1.2M289.5 150.12h-1.2"/>
</g>
<text x="32.40" y="243.0" font-size="8" text-anchor="middle">0</text>
<text x="29.9" y="236.25" font-size="8" text-anchor="end">0</text>
<text x="71.20" y="243.0" font-size="8" text-anchor="middle">0.05</text>
<text x="29.9" y="199.42" font-size="8" text-anchor="end">0.05</text>
<text x="110.00" y="243.0" font-size="8" text-anchor="middle">0.1</text>
<text x="29.9" y="162.58" font-size="8" text-anchor="end">0.1</text>
<text x="148.80" y="243.0" font-size="8" text-anchor="middle">0.15</text>
<text x="29.9" y="125.75" font-size="8" text-anchor="end">0.15</text>
<text x="90.60" y="253.5" font-size="8.8" text-anchor="middle">Observation</text>
<text x="172.60" y="243.0" font-size="8" text-anchor="middle">0</text>
<text x="170.1" y="236.25" font-size="8" text-anchor="end">0</text>
<text x="201.82" y="243.0" font-size="8" text-anchor="middle">0.2</text>
<text x="170.1" y="208.62" font-size="8" text-anchor="end">0.2</text>
<text x="231.05" y="243.0" font-size="8" text-anchor="middle">0.4</text>
<text x="170.1" y="181.00" font-size="8" text-anchor="end">0.4</text>
<text x="260.27" y="243.0" font-size="8" text-anchor="middle">0.6</text>
<text x="170.1" y="153.38" font-size="8" text-anchor="end">0.6</text>
<text x="289.50" y="243.0" font-size="8" text-anchor="middle">0.8</text>
<text x="170.1" y="125.75" font-size="8" text-anchor="end">0.8</text>
<text x="231.05" y="253.5" font-size="8.8" text-anchor="middle">Observation</text>
<text transform="translate(11.0 177.75) rotate(-90)" font-size="8.8" text-anchor="middle">Model</text>
<text x="36.8" y="134.3" font-size="8.8" style="stroke-width:.3px">(b)</text>
<text x="177.6" y="134.3" font-size="8.8" style="stroke-width:.3px">(c)</text>
<text x="371" y="134.3" font-size="8.8" style="stroke-width:.3px">(d)</text>
<circle cx="305.4" cy="125.90" r="1.15" fill="#2b4fa2"/>
<text x="313.7" y="128.60" font-size="7.4">Q1</text>
<circle cx="305.4" cy="143.00" r="1.15" fill="#4a90cc"/>
<text x="313.7" y="145.70" font-size="7.4">O1</text>
<circle cx="305.4" cy="160.10" r="1.15" fill="#86c6ec"/>
<text x="313.7" y="162.80" font-size="7.4">P1</text>
<circle cx="305.4" cy="177.20" r="1.15" fill="#d3edf8"/>
<text x="313.7" y="179.90" font-size="7.4">K1</text>
<circle cx="305.4" cy="194.30" r="1.15" fill="#fdd38c"/>
<text x="313.7" y="197.00" font-size="7.4">N2</text>
<circle cx="305.4" cy="211.40" r="1.15" fill="#e8452e"/>
<text x="313.7" y="214.10" font-size="7.4">S2</text>
<circle cx="305.4" cy="228.50" r="1.15" fill="#b3111f"/>
<text x="313.7" y="231.20" font-size="7.4">K2</text>
<g fill="#4f8ebd" stroke="#3f7fae" stroke-width="0.2">
<rect x="366.30" y="232.82" width="1.5" height="0.18" stroke="none"/>
<rect x="367.80" y="232.82" width="1.5" height="0.18" stroke="none"/>
<rect x="369.30" y="232.82" width="1.5" height="0.18" stroke="none"/>
<rect x="370.80" y="232.82" width="1.5" height="0.18" stroke="none"/>
<rect x="372.30" y="232.82" width="1.5" height="0.18" stroke="none"/>
<rect x="373.80" y="232.82" width="1.5" height="0.18" stroke="none"/>
<rect x="375.30" y="232.82" width="1.5" height="0.18" stroke="none"/>
<rect x="376.80" y="232.82" width="1.5" height="0.18" stroke="none"/>
<rect x="378.30" y="232.82" width="1.5" height="0.18" stroke="none"/>
<rect x="379.80" y="232.82" width="1.5" height="0.18" stroke="none"/>
<rect x="381.30" y="232.82" width="1.5" height="0.18" stroke="none"/>
<rect x="382.80" y="232.82" width="1.5" height="0.18" stroke="none"/>
<rect x="384.30" y="232.82" width="1.5" height="0.18" stroke="none"/>
<rect x="385.80" y="232.82" width="1.5" height="0.18" stroke="none"/>
<rect x="387.30" y="232.82" width="1.5" height="0.18" stroke="none"/>
<rect x="388.80" y="232.82" width="1.5" height="0.18" stroke="none"/>
<rect x="390.30" y="232.48" width="1.5" height="0.52"/>
<rect x="391.80" y="232.26" width="1.5" height="0.74"/>
<rect x="393.30" y="231.82" width="1.5" height="1.18"/>
<rect x="394.80" y="232.19" width="1.5" height="0.81"/>
<rect x="396.30" y="231.34" width="1.5" height="1.66"/>
<rect x="397.80" y="230.97" width="1.5" height="2.03"/>
<rect x="399.30" y="231.08" width="1.5" height="1.92"/>
<rect x="400.80" y="231.34" width="1.5" height="1.66"/>
<rect x="402.30" y="227.99" width="1.5" height="5.01"/>
<rect x="403.80" y="229.87" width="1.5" height="3.13"/>
<rect x="405.30" y="221.95" width="1.5" height="11.05"/>
<rect x="406.80" y="204.56" width="1.5" height="28.44"/>
<rect x="408.30" y="135.58" width="1.5" height="97.42"/>
<rect x="409.80" y="172.22" width="1.5" height="60.78"/>
<rect x="411.30" y="217.90" width="1.5" height="15.10"/>
<rect x="412.80" y="224.53" width="1.5" height="8.47"/>
<rect x="414.30" y="230.05" width="1.5" height="2.95"/>
<rect x="415.80" y="231.97" width="1.5" height="1.03"/>
<rect x="417.30" y="232.12" width="1.5" height="0.88"/>
<rect x="418.80" y="232.12" width="1.5" height="0.88"/>
<rect x="420.30" y="231.90" width="1.5" height="1.10"/>
<rect x="421.80" y="231.53" width="1.5" height="1.47"/>
<rect x="423.30" y="231.23" width="1.5" height="1.77"/>
<rect x="424.80" y="231.23" width="1.5" height="1.77"/>
<rect x="426.30" y="231.53" width="1.5" height="1.47"/>
<rect x="427.80" y="231.90" width="1.5" height="1.10"/>
<rect x="429.30" y="232.26" width="1.5" height="0.74"/>
<rect x="430.80" y="232.56" width="1.5" height="0.44" stroke="none"/>
<rect x="432.30" y="232.63" width="1.5" height="0.37" stroke="none"/>
<rect x="433.80" y="232.71" width="1.5" height="0.29" stroke="none"/>
<rect x="435.30" y="232.82" width="1.5" height="0.18" stroke="none"/>
<rect x="436.80" y="232.82" width="1.5" height="0.18" stroke="none"/>
<rect x="438.30" y="232.82" width="1.5" height="0.18" stroke="none"/>
<rect x="439.80" y="232.82" width="1.5" height="0.18" stroke="none"/>
<rect x="441.30" y="232.82" width="1.5" height="0.18" stroke="none"/>
<rect x="442.80" y="232.82" width="1.5" height="0.18" stroke="none"/>
<rect x="444.30" y="232.82" width="1.5" height="0.18" stroke="none"/>
<rect x="445.80" y="232.82" width="1.5" height="0.18" stroke="none"/>
<rect x="447.30" y="232.82" width="1.5" height="0.18" stroke="none"/>
<rect x="448.80" y="232.82" width="1.5" height="0.18" stroke="none"/>
<rect x="450.30" y="232.82" width="1.5" height="0.18" stroke="none"/>
<rect x="451.80" y="232.82" width="1.5" height="0.18" stroke="none"/>
<rect x="453.30" y="232.82" width="1.5" height="0.18" stroke="none"/>
<rect x="454.80" y="232.82" width="1.5" height="0.18" stroke="none"/>
<rect x="456.30" y="232.82" width="1.5" height="0.18" stroke="none"/>
<rect x="457.80" y="232.82" width="1.5" height="0.18" stroke="none"/>
<rect x="459.30" y="232.82" width="1.5" height="0.18" stroke="none"/>
<rect x="460.80" y="232.82" width="1.5" height="0.18" stroke="none"/>
<rect x="462.30" y="232.82" width="1.5" height="0.18" stroke="none"/>
<rect x="463.80" y="232.82" width="1.5" height="0.18" stroke="none"/>
<rect x="465.30" y="232.82" width="1.5" height="0.18" stroke="none"/>
<rect x="466.80" y="232.82" width="1.5" height="0.18" stroke="none"/>
<rect x="468.30" y="232.85" width="1.5" height="0.15" stroke="none"/>
<rect x="469.80" y="232.85" width="1.5" height="0.15" stroke="none"/>
<rect x="471.30" y="232.85" width="1.5" height="0.15" stroke="none"/>
<rect x="472.80" y="232.85" width="1.5" height="0.15" stroke="none"/>
<rect x="474.30" y="232.85" width="1.5" height="0.15" stroke="none"/>
<rect x="475.80" y="232.85" width="1.5" height="0.15" stroke="none"/>
<rect x="477.30" y="232.85" width="1.5" height="0.15" stroke="none"/>
<rect x="478.80" y="232.85" width="1.5" height="0.15" stroke="none"/>
<rect x="480.30" y="232.85" width="1.5" height="0.15" stroke="none"/>
<rect x="481.80" y="232.85" width="1.5" height="0.15" stroke="none"/>
<rect x="483.30" y="232.85" width="1.5" height="0.15" stroke="none"/>
<rect x="484.80" y="232.85" width="1.5" height="0.15" stroke="none"/>
<rect x="486.30" y="232.85" width="1.5" height="0.15" stroke="none"/>
<rect x="487.80" y="232.85" width="1.5" height="0.15" stroke="none"/>
<rect x="489.30" y="232.85" width="1.5" height="0.15" stroke="none"/>
<rect x="490.80" y="232.85" width="1.5" height="0.15" stroke="none"/>
<rect x="492.30" y="232.85" width="1.5" height="0.15" stroke="none"/>
<rect x="493.80" y="232.85" width="1.5" height="0.15" stroke="none"/>
</g>
<rect x="365.6" y="122.5" width="127.89999999999998" height="110.5" fill="none" stroke="#9c9c9c" stroke-width="0.5"/>
<g stroke="#9c9c9c" stroke-width="0.5">
<path d="M387.42 233.0v-1.3M387.42 122.5v1.3"/>
<path d="M409.10 233.0v-1.3M409.10 122.5v1.3"/>
<path d="M430.78 233.0v-1.3M430.78 122.5v1.3"/>
<path d="M452.46 233.0v-1.3M452.46 122.5v1.3"/>
<path d="M474.14 233.0v-1.3M474.14 122.5v1.3"/>
<path d="M365.6 214.58h1.3M493.5 214.58h-1.3"/>
<path d="M365.6 196.17h1.3M493.5 196.17h-1.3"/>
<path d="M365.6 177.75h1.3M493.5 177.75h-1.3"/>
<path d="M365.6 159.33h1.3M493.5 159.33h-1.3"/>
<path d="M365.6 140.92h1.3M493.5 140.92h-1.3"/>
</g>
<text x="387.42" y="243.0" font-size="8" text-anchor="middle">-0.2</text>
<text x="409.10" y="243.0" font-size="8" text-anchor="middle">0</text>
<text x="430.78" y="243.0" font-size="8" text-anchor="middle">0.2</text>
<text x="452.46" y="243.0" font-size="8" text-anchor="middle">0.4</text>
<text x="474.14" y="243.0" font-size="8" text-anchor="middle">0.6</text>
<text x="363.1" y="236.25" font-size="8" text-anchor="end">0</text>
<text x="363.1" y="217.83" font-size="8" text-anchor="end">500</text>
<text x="363.1" y="199.42" font-size="8" text-anchor="end">1000</text>
<text x="363.1" y="181.00" font-size="8" text-anchor="end">1500</text>
<text x="363.1" y="162.58" font-size="8" text-anchor="end">2000</text>
<text x="363.1" y="144.17" font-size="8" text-anchor="end">2500</text>
<text x="363.1" y="125.75" font-size="8" text-anchor="end">3000</text>
<text x="430" y="253.5" font-size="8.5" text-anchor="middle">Error (m)</text>
<text transform="translate(343.4 177.75) rotate(-90)" font-size="8.8" text-anchor="middle">Counts</text>
</svg>
</body></html>
